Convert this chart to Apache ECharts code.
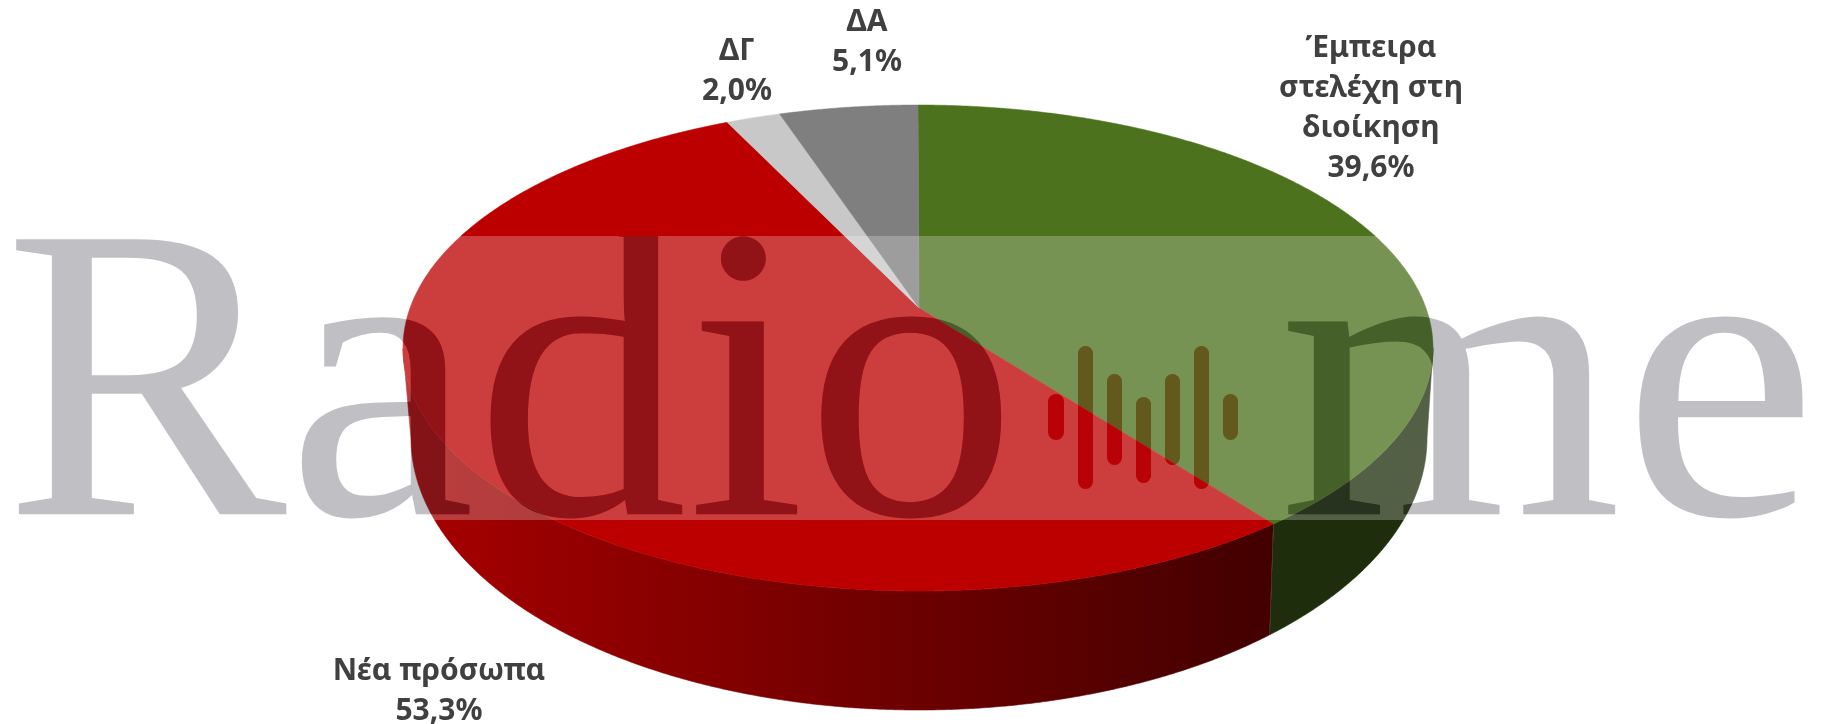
<!DOCTYPE html>
<html><head><meta charset="utf-8">
<style>html,body{margin:0;padding:0;background:#fff}#c{width:1822px;height:724px}</style>
<script src="https://cdn.jsdelivr.net/npm/echarts@6/dist/echarts.min.js"></script>
</head><body><div id="c"></div>
<script>
// Data, clockwise from 12 o'clock
const categories = ['Έμπειρα\nστελέχη στη\nδιοίκηση', 'Νέα πρόσωπα', 'ΔΓ', 'ΔΑ'];
const shares = [39.6, 53.3, 2.0, 5.1];
const faceColors = ['#4c721d', '#bc0000', '#c8c8c8', '#7f7f7f'];
const labelCenters = [[1371, 108], [439, 691], [737, 71], [867, 42]];
const watermarkWords = ['Radio', 'me'];

// Perspective geometry of the disc
const TOP = {cx: 918, cy: 348, rx: 515, ry: 243};
const BOTTOM = {cx: 919, cy: 438, rx: 508, ry: 272};
const K = (308 - 348) / 243;   // where the disc centre lands inside the ellipse
function project(deg) {
  const a = deg * Math.PI / 180, u = Math.sin(a), v = -Math.cos(a);
  const d = 1 + K * v;
  return [u * Math.sqrt(1 - K * K) / d, (v + K) / d];
}
function at(e, n) { return [e.cx + e.rx * n[0], e.cy + e.ry * n[1]]; }
function spans() {
  let s = 0; const total = shares.reduce((x, y) => x + y, 0);
  return shares.map(v => { const a = s; s += v / total * 360; return [a, s]; });
}
const SPANS = spans();

function renderTop(params) {
  const [a0, a1] = SPANS[params.dataIndex];
  const pts = [[919, 308]];
  for (let d = a0; d < a1; d += 0.25) pts.push(at(TOP, project(d)));
  pts.push(at(TOP, project(a1)));
  return {type: 'polygon', shape: {points: pts},
    style: {fill: faceColors[params.dataIndex], stroke: faceColors[params.dataIndex], lineWidth: 0.5}};
}
function renderSide(params) {
  const i = params.dataIndex, [a0, a1] = SPANS[i];
  const upper = [], lower = [];
  for (let d = a0; d <= a1 + 1e-6; d += 0.25) {
    const n = project(Math.min(d, a1));
    if (n[1] < 0) continue;
    upper.push(at(TOP, n)); lower.push(at(BOTTOM, n));
  }
  if (upper.length < 2) return null;
  const fill = i === 0 ? '#1e2e0c' : new echarts.graphic.LinearGradient(0, 0, 1, 0, [
    {offset: 0, color: '#a80000'}, {offset: 1, color: '#420000'}]);
  return {type: 'polygon', shape: {points: upper.concat(lower.reverse())},
    style: {fill: fill, stroke: fill, lineWidth: 0.6}};
}

// Watermark overlay, on its own layer so it composites like a translucent picture
const WZ = 5;
const wmFont = "420px 'Liberation Serif'";
const wordPlace = [{x: 4, y: 404, sx: 1.01}, {x: 1279, y: 404, sx: 1.05}];
const barBoxes = [[1048,394,16,46],[1078,346,15,143],[1107,374,15,91],[1136,397,15,86],[1165,374,15,91],[1194,346,15,143],[1223,394,15,46]];
const KNOCK = '#000001';
const wm = [{type: 'rect', zlevel: WZ, z: 1, silent: true, shape: {x: 0, y: 236, width: 1822, height: 284},
  style: {fill: 'rgba(255,255,255,0.24)'}}];
function addPass(z, fillText, fillBar, blend) {
  watermarkWords.forEach((w, i) => wm.push({type: 'text', zlevel: WZ, z: z, silent: true,
    x: wordPlace[i].x, y: wordPlace[i].y, scaleX: wordPlace[i].sx,
    style: {text: w, font: wmFont, fill: fillText, verticalAlign: 'middle', align: 'left'}}));
  barBoxes.forEach(b => wm.push({type: 'rect', zlevel: WZ, z: z, silent: true,
    shape: {x: b[0], y: b[1], width: b[2], height: b[3], r: b[2] / 2},
    style: {fill: fillBar, blend: blend}}));
}
addPass(2, KNOCK, KNOCK, 'destination-out');
addPass(3, 'rgba(60,58,72,0.32)', 'rgba(175,10,30,0.234)', 'source-over');
// The picture ends at the band's edges
[[0, 0, 236], [0, 520, 204]].forEach(r => wm.push({type: 'rect', zlevel: WZ, z: 4, silent: true,
  shape: {x: r[0], y: r[1], width: 1822, height: r[2]}, style: {fill: '#000', blend: 'destination-out'}}));

const labels = categories.map((c, i) => ({type: 'text', zlevel: 6, silent: true,
  x: labelCenters[i][0], y: labelCenters[i][1],
  style: {text: c + '\n' + shares[i].toFixed(1).replace('.', ',') + '%',
    font: "bold 30px 'Noto Sans'", fill: '#404040', align: 'center', verticalAlign: 'middle', lineHeight: 40}}));

const chart = echarts.init(document.getElementById('c'), null, {renderer: 'canvas'});
const rows = categories.map((c, i) => ({name: c, value: shares[i]}));
chart.setOption({
  animation: false,
  backgroundColor: '#fff',
  series: [
    {type: 'custom', coordinateSystem: 'none', renderItem: renderSide, data: rows, z: 1, silent: true},
    {type: 'custom', coordinateSystem: 'none', renderItem: renderTop, data: rows, z: 2, silent: true}
  ],
  graphic: {elements: wm.concat(labels)}
});
// Text elements hand their glyphs to an inner span, which is where the blend has to go
const zr = chart.getZr();
zr.storage.getDisplayList(true, true).forEach(el => {
  if (el.style && el.style.fill === KNOCK && el.style.text) {
    el.style.blend = 'destination-out';
    el.dirty();
  }
});
zr.refreshImmediately();
</script></body></html>
